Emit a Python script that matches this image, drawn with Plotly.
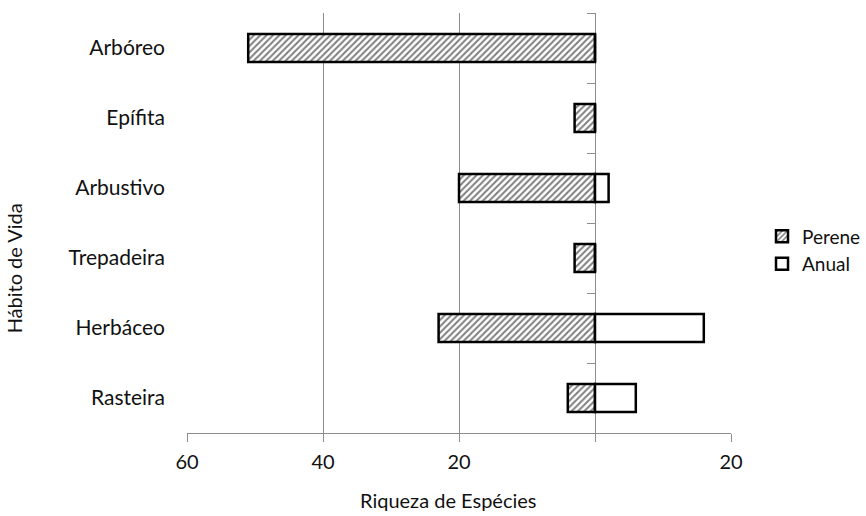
import plotly.graph_objects as go

categories = ["Arbóreo", "Epífita", "Arbustivo", "Trepadeira", "Herbáceo", "Rasteira"]
perene = [51, 3, 20, 3, 23, 4]
anual = [0, 0, 2, 0, 16, 6]
tick_vals = [-60, -40, -20, 0, 20]
tick_text = ["60", "40", "20", "", "20"]

FONT = "Lato"
GRID = "#8c8c8c"
TXT = "#111111"

fig = go.Figure()
# dummy trace to carry the category labels on the left axis
fig.add_trace(go.Bar(y=categories, x=[0] * len(categories), orientation="h", yaxis="y",
                     showlegend=False, hoverinfo="skip", marker=dict(color="rgba(0,0,0,0)")))
fig.add_trace(go.Bar(
    name="Perene", y=categories, x=[-v for v in perene], orientation="h", yaxis="y2",
    marker=dict(color="white", line=dict(color="black", width=2.5),
                pattern=dict(shape="/", fgcolor="black", bgcolor="white", size=4.5, solidity=0.45)),
    hoverinfo="skip",
))
fig.add_trace(go.Bar(
    name="Anual", y=categories, x=anual, orientation="h", yaxis="y2",
    marker=dict(color="white", line=dict(color="black", width=2.5)),
    hoverinfo="skip",
))

zero_pos = (0 - (-60)) / (20 - (-60))

fig.update_layout(
    width=866, height=516,
    margin=dict(l=187, r=135, t=13, b=83, autoexpand=False),
    paper_bgcolor="white", plot_bgcolor="white",
    barmode="relative", bargap=0.6,
    font=dict(family=FONT, size=20, color=TXT),
    xaxis=dict(range=[-60, 20], tickmode="array", tickvals=tick_vals, ticktext=tick_text,
               showgrid=True, gridcolor=GRID, gridwidth=1, zeroline=False,
               showline=True, linecolor=GRID, linewidth=1,
               ticks="outside", ticklen=8, tickcolor=GRID, ticklabelstandoff=3,
               tickfont=dict(size=20, color=TXT)),
    yaxis=dict(type="category", categoryorder="array", categoryarray=categories,
               autorange="reversed", showgrid=False, zeroline=False, showline=False,
               ticks="", ticklabelstandoff=21, tickfont=dict(size=21, color=TXT)),
    yaxis2=dict(type="category", categoryorder="array", categoryarray=categories,
                autorange="reversed", overlaying="y", anchor="free", position=zero_pos,
                side="left", showline=True, linecolor=GRID, linewidth=1,
                ticks="outside", tickson="boundaries", ticklen=8, tickcolor=GRID,
                showticklabels=False, showgrid=False, zeroline=False,
                layer="below traces"),
    legend=dict(x=1.057, y=0.435, xanchor="left", yanchor="middle",
                font=dict(size=19, color=TXT), tracegroupgap=0, itemwidth=30,
                bgcolor="rgba(0,0,0,0)"),
    annotations=[
        dict(text="Riqueza de Espécies", xref="paper", yref="paper", x=0.48, y=-0.16,
             xanchor="center", yanchor="middle", showarrow=False,
             font=dict(size=20, color=TXT)),
        dict(text="Hábito de Vida", xref="paper", yref="paper", x=-0.318, y=0.392,
             xanchor="center", yanchor="middle", showarrow=False, textangle=-90,
             font=dict(size=20, color=TXT)),
    ],
)

fig.write_html("out.html")
